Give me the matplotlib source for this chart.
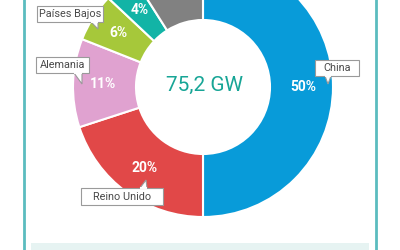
import matplotlib.pyplot as plt
import matplotlib.patches as mpatches

# shares of installed capacity (%), clockwise from top
countries = ['China', 'Reino Unido', 'Alemania', 'Países Bajos', 'Dinamarca', 'Otros']
shares = [50, 20, 11, 6, 4, 9]
colors = ['#089bd9', '#e14848', '#e0a2d0', '#a6c83a', '#12b4a6', '#818181']
total_label = '75,2 GW'

plt.rcParams['font.family'] = ['Roboto', 'DejaVu Sans']

fig = plt.figure(figsize=(4, 2.5), dpi=100)
ax = fig.add_axes([0, 0, 1, 1])

H = 250  # pixel height, used to flip y


def pct_fmt(p):
    return '%d%%' % round(p)


wedges, texts, autotexts = ax.pie(
    shares, colors=colors, startangle=90, counterclock=False,
    center=(203, H - 87), radius=130, autopct=pct_fmt, pctdistance=0.77,
    wedgeprops=dict(width=63, edgecolor='white', linewidth=1.5),
    textprops=dict(color='white', fontsize=10, fontweight='bold'))
# the "Otros" label falls outside the visible area
autotexts[-1].set_visible(False)

ax.set_xlim(0, 400)
ax.set_ylim(0, H)
ax.set_aspect('auto')
ax.axis('off')

# centre total
ax.text(205, H - 85, total_label, ha='center', va='center', fontsize=15,
        color='#17a596')

# side frame lines and bottom panel
ax.plot([24, 24], [0, H], color='#5bbcbf', lw=2, clip_on=False)
ax.plot([376, 376], [0, H], color='#5bbcbf', lw=2, clip_on=False)
ax.add_patch(mpatches.Rectangle((31, 0), 338, H - 243, color='#e6f3f2', lw=0))


def callout(name, box, tail):
    # box: (x0, y0, x1, y1) in pixels from top; tail: three points
    x0, y0, x1, y1 = box
    ax.add_patch(mpatches.Rectangle((x0, H - y1), x1 - x0, y1 - y0, fc='white',
                                    ec='#9a9a9a', lw=0.8, zorder=5))
    pts = [(x, H - y) for x, y in tail]
    ax.add_patch(mpatches.Polygon(pts, closed=False, fc='white', ec='#9a9a9a',
                                  lw=0.8, zorder=5))
    # hide box edge under the tail base
    ax.plot([pts[0][0] + 0.6, pts[2][0] - 0.6], [pts[0][1], pts[2][1]],
            color='white', lw=1.4, zorder=6)
    ax.text((x0 + x1) / 2, H - (y0 + y1) / 2, name, ha='center', va='center',
            fontsize=7.8, color='#4a4a4a', zorder=7)


callout(countries[0], (315, 60, 359, 76), [(325, 76), (328, 84), (331, 76)])
callout(countries[1], (81, 188, 163, 205), [(140, 188), (146, 180), (147, 188)])
callout(countries[2], (36, 57, 89, 73), [(74, 73), (82, 84), (82, 73)])
callout(countries[3], (37, 6, 103, 22), [(91, 22), (98, 29), (98, 22)])

fig.savefig('out.png', dpi=100)
